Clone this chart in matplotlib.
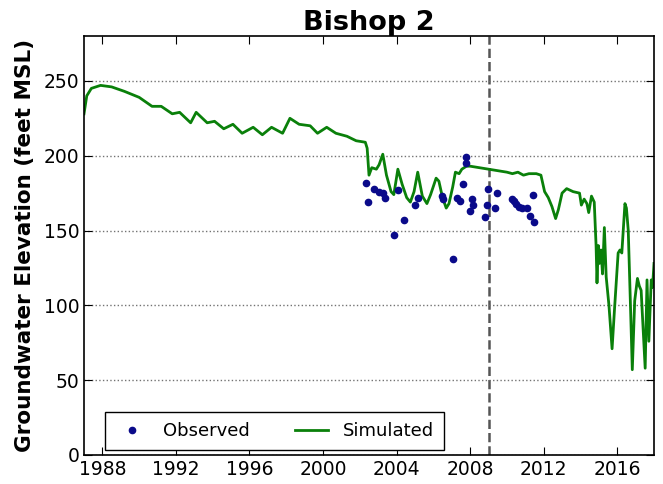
import matplotlib
matplotlib.use("Agg")
import matplotlib.pyplot as plt

# Simulated groundwater elevation (decimal year, feet MSL)
sim_year = [1987.0, 1987.15, 1987.4, 1987.9, 1988.5, 1989.2, 1990.0, 1990.7, 1991.2, 1991.8,
            1992.2, 1992.8, 1993.1, 1993.7, 1994.1, 1994.6, 1995.1, 1995.6, 1996.2, 1996.7,
            1997.2, 1997.8, 1998.2, 1998.7, 1999.3, 1999.7, 2000.2, 2000.7, 2001.3, 2001.8,
            2002.3, 2002.4, 2002.5, 2002.65, 2002.9, 2003.05, 2003.25, 2003.45, 2003.7, 2003.85,
            2004.07, 2004.3, 2004.55, 2004.75, 2004.95, 2005.15, 2005.4, 2005.65, 2005.85, 2006.15,
            2006.3, 2006.5, 2006.7, 2006.85, 2007.05, 2007.2, 2007.4, 2007.55, 2007.8, 2008.0,
            2008.5, 2009.0, 2009.5, 2010.0, 2010.3, 2010.6, 2010.9, 2011.2, 2011.6, 2011.85,
            2012.05, 2012.25, 2012.45, 2012.65, 2012.8, 2013.0, 2013.25, 2013.6, 2013.95, 2014.05,
            2014.2, 2014.35, 2014.45, 2014.6, 2014.75, 2014.85, 2014.9, 2014.97, 2015.03, 2015.12,
            2015.2, 2015.3, 2015.4, 2015.55, 2015.72, 2015.85, 2016.05, 2016.15, 2016.25, 2016.42,
            2016.5, 2016.6, 2016.72, 2016.82, 2016.95, 2017.1, 2017.2, 2017.3, 2017.52, 2017.62,
            2017.72, 2017.85, 2017.92, 2018.0]
sim_elev = [228, 240, 245, 247, 246, 243, 239, 233, 233, 228,
            229, 222, 229, 222, 223, 218, 221, 215, 219, 214,
            219, 215, 225, 221, 220, 215, 219, 215, 213, 210,
            209, 205, 187, 192, 191, 194, 201, 187, 176, 174,
            191, 181, 172, 169, 176, 189, 173, 168, 174, 185,
            183, 172, 165, 168, 179, 189, 188, 191, 193, 193,
            192, 191, 190, 189, 188, 189, 187, 188, 188, 187,
            176, 172, 166, 158, 164, 175, 178, 176, 175, 167,
            171, 168, 162, 173, 169, 140, 115, 140, 128, 137,
            121, 152, 119, 100, 71, 97, 135, 137, 135, 168,
            165, 150, 100, 57, 103, 118, 113, 110, 58, 117,
            76, 117, 112, 128]

# Observed well measurements
obs_year = [2002.33, 2002.43, 2002.76, 2003.03, 2003.25, 2003.36, 2003.85, 2004.1, 2004.4, 2005.0,
            2005.15, 2006.45, 2006.55, 2007.05, 2007.27, 2007.44, 2007.6, 2007.75, 2007.8, 2008.0,
            2008.1, 2008.15, 2008.8, 2008.9, 2008.95, 2009.35, 2009.45, 2010.3, 2010.4, 2010.5,
            2010.65, 2010.8, 2011.1, 2011.25, 2011.4, 2011.5]
obs_elev = [182, 169, 178, 176, 175, 172, 147, 177, 157, 167,
            172, 173, 171, 131, 172, 170, 181, 195, 199, 163,
            171, 167, 159, 167, 178, 165, 175, 171, 170, 168,
            166, 165, 165, 160, 174, 156]

split_year = 2009
xticks = [1988, 1992, 1996, 2000, 2004, 2008, 2012, 2016]
yticks = [0, 50, 100, 150, 200, 250]

fig = plt.figure(figsize=(6.63, 4.84), dpi=100)
ax = fig.add_axes([84 / 663, 29 / 484, 570 / 663, 419 / 484])

ax.plot(obs_year, obs_elev, '.', color='#0a0a8a', markersize=9, label='Observed', zorder=3)
ax.plot(sim_year, sim_elev, '-', color='#0a800a', lw=2.0, label='Simulated', zorder=2)
ax.axvline(split_year, color='#555555', linestyle='--', lw=1.8, zorder=1)

ax.set_xlim(1987, 2018)
ax.set_ylim(0, 280)
ax.set_xticks(xticks)
ax.set_yticks(yticks)
ax.yaxis.grid(True, linestyle=':', color='0.45', lw=1)
ax.tick_params(direction='in', top=True, right=True, length=6, labelsize=13.5)
for s in ax.spines.values():
    s.set_linewidth(1.2)

ax.set_title('Bishop 2', fontsize=19.5, fontweight='bold', pad=4)
ax.set_ylabel('Groundwater Elevation (feet MSL)', fontsize=15.5, fontweight='bold', labelpad=6)

leg = ax.legend(loc='lower left', bbox_to_anchor=(0.037, 0.012), borderaxespad=0, ncol=2,
                fontsize=13, fancybox=False, edgecolor='black', framealpha=1, borderpad=0.55,
                columnspacing=2.5, handlelength=1.85, markerscale=1.0)
leg.get_frame().set_linewidth(1.0)

fig.savefig('out.png', dpi=100)
